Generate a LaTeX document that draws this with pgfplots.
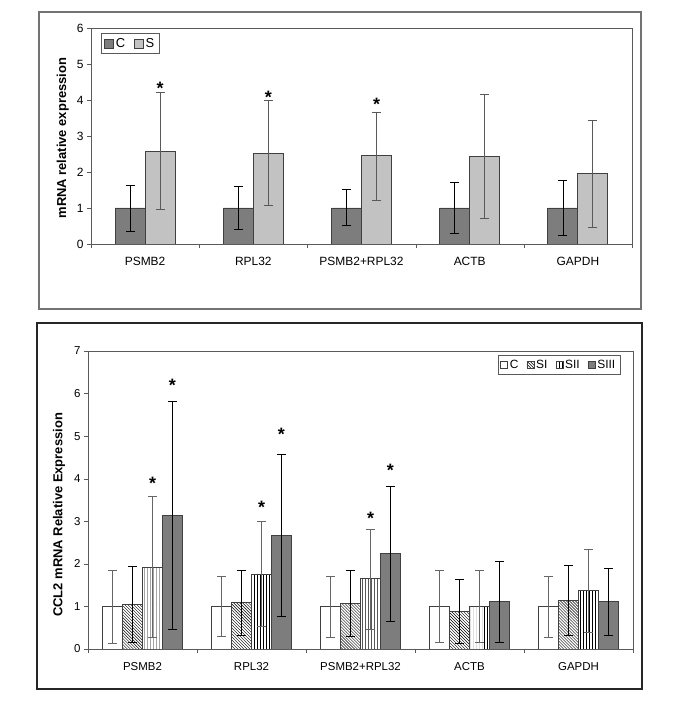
\documentclass[border=0pt]{standalone}
\usepackage{pgfplots}
\pgfplotsset{compat=1.18}
\usepackage{pgfplotstable}
\usepackage{fontspec}
\setmainfont{Liberation Sans}
\usetikzlibrary{patterns}

\definecolor{cdark}{RGB}{125,125,125}
\definecolor{clight}{RGB}{194,194,194}
\definecolor{cframe}{RGB}{115,115,115}
\definecolor{caxis}{RGB}{90,90,90}

% top panel: C vs S
\pgfplotstableread{
x y ep em
0 1 0.64 0.65
1 1 0.59 0.59
2 1 0.52 0.47
3 1 0.72 0.70
4 1 0.76 0.75
}\topC
\pgfplotstableread{
x y ep em
0 2.57 1.63 1.62
1 2.51 1.49 1.45
2 2.46 1.20 1.24
3 2.44 1.72 1.73
4 1.97 1.47 1.51
}\topS

% bottom panel: C, SI, SII, SIII
\pgfplotstableread{
x y ep em
0 1 0.84 0.87
1 1 0.70 0.71
2 1 0.70 0.73
3 1 0.84 0.85
4 1 0.71 0.73
}\botC
\pgfplotstableread{
x y ep em
0 1.04 0.91 0.89
1 1.09 0.76 0.77
2 1.07 0.77 0.77
3 0.88 0.75 0.75
4 1.14 0.83 0.82
}\botSI
\pgfplotstableread{
x y ep em
0 1.92 1.67 1.65
1 1.76 1.23 1.24
2 1.65 1.16 1.20
3 1.00 0.84 0.85
4 1.37 0.97 0.99
}\botSII
\pgfplotstableread{
x y ep em
0 3.14 2.68 2.69
1 2.67 1.89 1.90
2 2.24 1.58 1.60
3 1.11 0.94 0.96
4 1.11 0.79 0.79
}\botSIII

\pgfplotsset{
  panel/.style={
    scale only axis,
    xmin=-0.5, xmax=4.5, ymin=0,
    xtick={-0.5,0.5,...,4.5},
    xticklabels={PSMB2,RPL32,PSMB2+RPL32,ACTB,GAPDH},
    x tick label as interval,
    tick align=outside, tick pos=left,
    major tick length=4bp,
    axis line style={caxis}, tick style={caxis},
    /pgf/number format/assume math mode=true,
    ylabel style={at={(axis description cs:-0.052,0.49)}, anchor=center},
  },
  % error bars drawn as separate plots, shifted to the bar centres
  ebar/.style={draw=none, mark=none, forget plot,
    error bars/.cd, y dir=both, y explicit,
    error bar style={draw=#1, line width=0.8bp},
    error mark options={rotate=90, mark size=4.5bp, draw=#1, line width=0.8bp}},
  bars/.style={ybar, draw=black!75, line width=0.9bp},
  legend image code/.code={\draw[#1, line width=0.6bp] (0bp,-4.5bp) rectangle (9bp,4.5bp);},
}

\begin{document}
\begin{tikzpicture}[x=1bp,y=1bp]
\path[use as bounding box] (0,0) rectangle (685,704);
\draw[cframe, line width=1.2bp] (39,395) rectangle (641,692);
\draw[black!85, line width=1.6bp] (37,15) rectangle (642,381);

\begin{axis}[panel,
  at={(91bp,460bp)}, anchor=south west,
  width=541bp, height=216bp,
  ymax=6, ytick={0,...,6},
  tick label style={font=\fontsize{12}{12}\selectfont},
  x tick label style={yshift=-6bp},
  ylabel={mRNA relative expression},
  ylabel style={font=\fontsize{13}{13}\selectfont\bfseries},
  legend style={at={(0.0185,0.977)}, anchor=north west, draw=caxis,
    font=\fontsize{13}{13}\selectfont, legend columns=-1, inner sep=3bp,
    /tikz/every even column/.append style={column sep=7bp}},
]
\addplot[bars, bar width=0.277, bar shift=-0.1385, fill=cdark]
  table[x=x, y=y] {\topC};
\addplot[bars, bar width=0.277, bar shift=0.1385, fill=clight]
  table[x=x, y=y] {\topS};
\addplot[ebar=black] table[x expr=\thisrow{x}-0.1385, y=y, y error plus=ep, y error minus=em] {\topC};
\addplot[ebar=black!65] table[x expr=\thisrow{x}+0.1385, y=y, y error plus=ep, y error minus=em] {\topS};
\addplot[only marks, forget plot, mark=text, text mark={\fontsize{18}{18}\selectfont\bfseries *}]
  coordinates {(0.1385,4.32) (1.1385,4.06) (2.1385,3.88)};
\legend{C,S}
\end{axis}

\begin{axis}[panel,
  at={(88bp,55bp)}, anchor=south west,
  width=545bp, height=298bp,
  ymax=7, ytick={0,...,7},
  tick label style={font=\fontsize{11.5}{11.5}\selectfont},
  x tick label style={yshift=-6bp},
  ylabel={CCL2 mRNA Relative Expression},
  ylabel style={at={(axis description cs:-0.053,0.45)}, font=\fontsize{13}{13}\selectfont\bfseries},
  legend style={at={(0.976,0.986)}, anchor=north east, draw=caxis,
    font=\fontsize{12}{12}\selectfont, legend columns=-1, inner sep=2.5bp,
    /tikz/every even column/.append style={column sep=6bp}},
  legend image code/.code={\draw[#1, line width=0.6bp] (0bp,-3.5bp) rectangle (7bp,3.5bp);},
]
\addplot[bars, bar width=0.1835, bar shift=-0.275, fill=white]
  table[x=x, y=y] {\botC};
\addplot[bars, bar width=0.1835, bar shift=-0.092, pattern=north west lines]
  table[x=x, y=y] {\botSI};
\addplot[bars, bar width=0.1835, bar shift=0.092, pattern=vertical lines]
  table[x=x, y=y] {\botSII};
\addplot[bars, bar width=0.1835, bar shift=0.275, fill=cdark]
  table[x=x, y=y] {\botSIII};
\addplot[ebar=black!60] table[x expr=\thisrow{x}-0.275, y=y, y error plus=ep, y error minus=em] {\botC};
\addplot[ebar=black] table[x expr=\thisrow{x}-0.092, y=y, y error plus=ep, y error minus=em] {\botSI};
\addplot[ebar=black!60] table[x expr=\thisrow{x}+0.092, y=y, y error plus=ep, y error minus=em] {\botSII};
\addplot[ebar=black] table[x expr=\thisrow{x}+0.275, y=y, y error plus=ep, y error minus=em] {\botSIII};
\addplot[only marks, forget plot, mark=text, text mark={\fontsize{18}{18}\selectfont\bfseries *}]
  coordinates {(0.092,3.90) (0.275,6.19) (1.092,3.33) (1.275,5.05) (2.092,3.06) (2.275,4.19)};
\legend{C,SI,SII,SIII}
\end{axis}
\end{tikzpicture}
\end{document}
